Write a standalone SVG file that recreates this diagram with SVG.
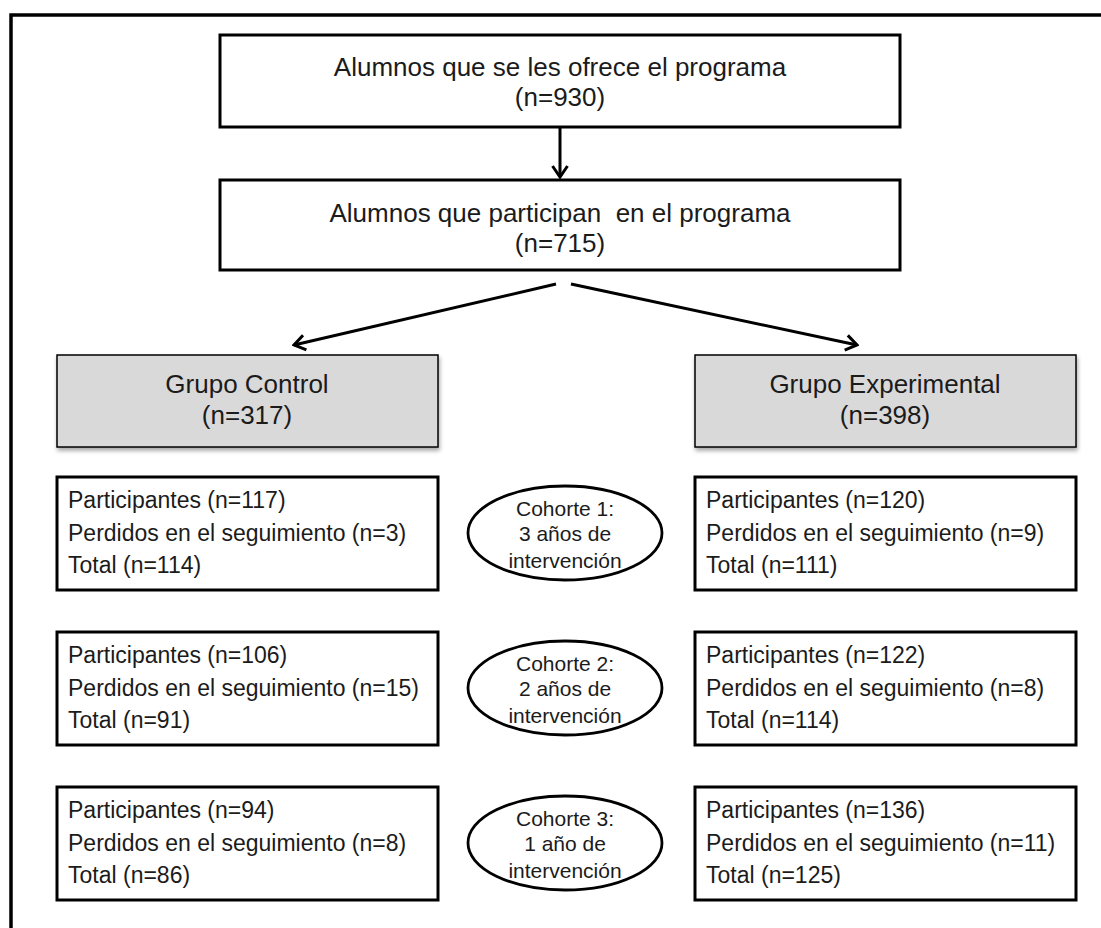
<svg xmlns="http://www.w3.org/2000/svg" width="1101" height="928" viewBox="0 0 1101 928">
<defs>
<style>
.t{font-family:"Liberation Sans",Arial,sans-serif;fill:#1b1b1b}
.big{font-size:26px;text-anchor:middle}
.sm{font-size:23px}
.el{font-size:21px;text-anchor:middle}
.box{fill:#fff;stroke:#000;stroke-width:3}
.gbox{fill:#d9d9d9;stroke:#000;stroke-width:1.5}
.ell{fill:none;stroke:#000;stroke-width:2.8}
.con{fill:none;stroke:#000;stroke-width:3}
</style>
<marker id="ah" viewBox="-13 -10 15 20" refX="0" refY="0" markerWidth="15" markerHeight="20" markerUnits="userSpaceOnUse" orient="auto">
<path d="M-11,-7.5 L0,0 L-11,7.5" fill="none" stroke="#000" stroke-width="3"/>
</marker>
<filter id="sh" x="-5%" y="-10%" width="110%" height="130%">
<feDropShadow dx="1" dy="3" stdDeviation="2" flood-color="#000" flood-opacity="0.35"/>
</filter>
</defs>
<rect width="1101" height="928" fill="#fff"/>
<path d="M11,928 L11,15 L1101,15" fill="none" stroke="#000" stroke-width="3.5"/>

<g id="connectors">
<line class="con" x1="560" y1="128" x2="560" y2="177" marker-end="url(#ah)"/>
<line class="con" x1="556" y1="284" x2="294" y2="345" marker-end="url(#ah)"/>
<line class="con" x1="571" y1="284" x2="857" y2="345" marker-end="url(#ah)"/>
</g>

<g id="n-ofrece">
<rect class="box" x="220" y="35" width="680" height="92"/>
<text class="t big" x="560" y="76">Alumnos que se les ofrece el programa</text>
<text class="t big" x="560" y="106">(n=930)</text>
</g>
<g id="n-participan">
<rect class="box" x="220" y="180" width="680" height="90"/>
<text class="t big" x="560" y="222" xml:space="preserve">Alumnos que participan  en el programa</text>
<text class="t big" x="560" y="252">(n=715)</text>
</g>

<g id="n-control">
<rect class="gbox" x="57" y="355" width="381" height="92" filter="url(#sh)"/>
<text class="t big" x="247" y="393">Grupo Control</text>
<text class="t big" x="247" y="424">(n=317)</text>
</g>
<g id="n-experimental">
<rect class="gbox" x="695" y="355" width="381" height="92" filter="url(#sh)"/>
<text class="t big" x="885" y="393">Grupo Experimental</text>
<text class="t big" x="885" y="424">(n=398)</text>
</g>

<g id="n-c1">
<rect class="box" x="57" y="477" width="381" height="113"/>
<text class="t sm" x="68" y="508">Participantes (n=117)</text>
<text class="t sm" x="68" y="541">Perdidos en el seguimiento (n=3)</text>
<text class="t sm" x="68" y="573">Total (n=114)</text>
</g>
<g id="n-e1">
<rect class="box" x="695" y="477" width="381" height="113"/>
<text class="t sm" x="706" y="508">Participantes (n=120)</text>
<text class="t sm" x="706" y="541">Perdidos en el seguimiento (n=9)</text>
<text class="t sm" x="706" y="573">Total (n=111)</text>
</g>
<g id="n-coh1">
<ellipse class="ell" cx="565" cy="533" rx="97" ry="47"/>
<text class="t el" x="565" y="516">Cohorte 1:</text>
<text class="t el" x="565" y="541">3 años de</text>
<text class="t el" x="565" y="568">intervención</text>
</g>

<g id="n-c2">
<rect class="box" x="57" y="632" width="381" height="113"/>
<text class="t sm" x="68" y="663">Participantes (n=106)</text>
<text class="t sm" x="68" y="696">Perdidos en el seguimiento (n=15)</text>
<text class="t sm" x="68" y="728">Total (n=91)</text>
</g>
<g id="n-e2">
<rect class="box" x="695" y="632" width="381" height="113"/>
<text class="t sm" x="706" y="663">Participantes (n=122)</text>
<text class="t sm" x="706" y="696">Perdidos en el seguimiento (n=8)</text>
<text class="t sm" x="706" y="728">Total (n=114)</text>
</g>
<g id="n-coh2">
<ellipse class="ell" cx="565" cy="688" rx="97" ry="47"/>
<text class="t el" x="565" y="671">Cohorte 2:</text>
<text class="t el" x="565" y="696">2 años de</text>
<text class="t el" x="565" y="723">intervención</text>
</g>

<g id="n-c3">
<rect class="box" x="57" y="787" width="381" height="113"/>
<text class="t sm" x="68" y="818">Participantes (n=94)</text>
<text class="t sm" x="68" y="851">Perdidos en el seguimiento (n=8)</text>
<text class="t sm" x="68" y="883">Total (n=86)</text>
</g>
<g id="n-e3">
<rect class="box" x="695" y="787" width="381" height="113"/>
<text class="t sm" x="706" y="818">Participantes (n=136)</text>
<text class="t sm" x="706" y="851">Perdidos en el seguimiento (n=11)</text>
<text class="t sm" x="706" y="883">Total (n=125)</text>
</g>
<g id="n-coh3">
<ellipse class="ell" cx="565" cy="843" rx="97" ry="47"/>
<text class="t el" x="565" y="826">Cohorte 3:</text>
<text class="t el" x="565" y="851">1 año de</text>
<text class="t el" x="565" y="878">intervención</text>
</g>
</svg>
